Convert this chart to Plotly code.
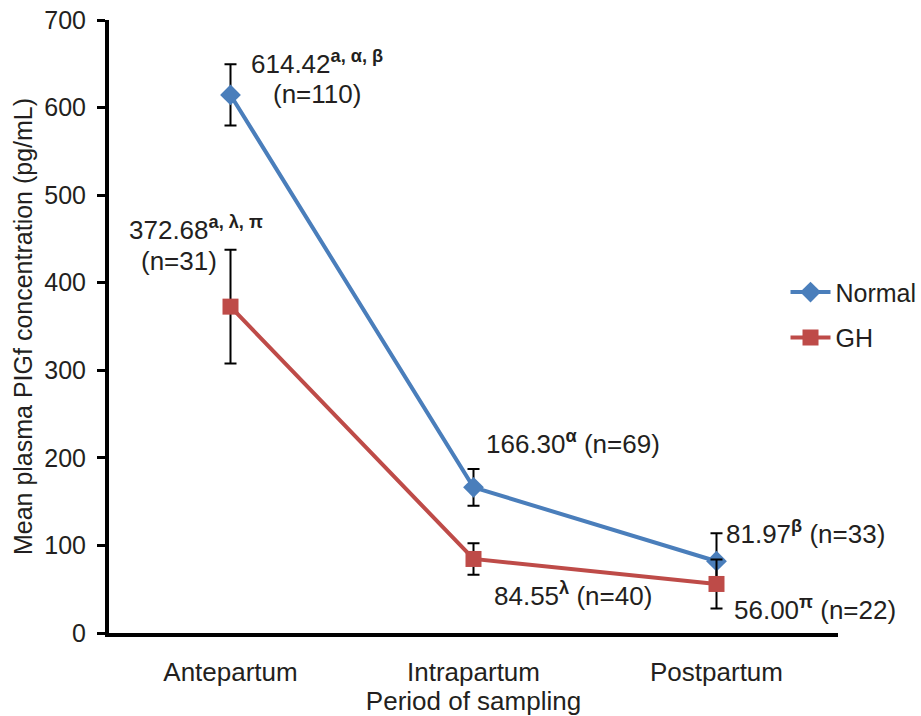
import plotly.graph_objects as go

categories = ["Antepartum", "Intrapartum", "Postpartum"]
normal_vals = [614.42, 166.30, 81.97]
normal_err = [35, 21, 32]
gh_vals = [372.68, 84.55, 56.00]
gh_err = [65, 18, 28]

blue = "#4A7EBB"
red = "#BE4B48"
FONT = "Liberation Sans, Arial, sans-serif"
TXT = "#231F20"

fig = go.Figure()
fig.add_trace(go.Scatter(
    x=[0, 1, 2], y=normal_vals, name="Normal", mode="lines+markers",
    legendgroup="n",
    line=dict(color=blue, width=4),
    marker=dict(symbol="diamond", size=16, color=blue),
    error_y=dict(type="data", array=normal_err, visible=True, color="black", thickness=2, width=6),
))
fig.add_trace(go.Scatter(
    x=[0, 1, 2], y=gh_vals, name="GH", mode="lines+markers",
    legendgroup="g",
    line=dict(color=red, width=4),
    marker=dict(symbol="square", size=16, color=red),
    error_y=dict(type="data", array=gh_err, visible=True, color="black", thickness=2, width=6),
))

ann_font = dict(family=FONT, size=26, color=TXT)
anns = [
    (0.354, 652, "614.42<sup><b>a, α, β</b></sup>", "center"),
    (0.354, 616, "(n=110)", "center"),
    (-0.14, 462, "372.68<sup><b>a, λ, π</b></sup>", "center"),
    (-0.214, 425, "(n=31)", "center"),
    (1.41, 217, "166.30<sup><b>α</b></sup> (n=69)", "center"),
    (1.41, 44, "84.55<sup><b>λ</b></sup> (n=40)", "center"),
    (2.029, 115, "81.97<sup><b>β</b></sup> (n=33)", "left"),
    (2.062, 28, "56.00<sup><b>π</b></sup> (n=22)", "left"),
]
for x, y, t, al in anns:
    fig.add_annotation(x=x, y=y, xref="x", yref="y", text=t, showarrow=False,
                       xanchor=al, yanchor="middle", font=ann_font)

fig.update_layout(
    width=921, height=716,
    margin=dict(l=109, r=83, t=20, b=83, autoexpand=False),
    paper_bgcolor="white", plot_bgcolor="white",
    font=dict(family=FONT, size=26, color=TXT),
    showlegend=True,
    legend=dict(x=0.928, y=0.519, xanchor="left", yanchor="middle",
                font=dict(family=FONT, size=25, color=TXT),
                bgcolor="rgba(0,0,0,0)", itemwidth=40, tracegroupgap=10),
    xaxis=dict(
        range=[-0.5, 2.5], tickmode="array", tickvals=[0, 1, 2], ticktext=categories,
        showline=True, linecolor="black", linewidth=4, showgrid=False, zeroline=False,
        ticks="", ticklen=0, tickfont=dict(size=26), ticklabelstandoff=13,
        automargin=False,
        title=dict(text="Period of sampling", font=dict(size=26), standoff=0),
    ),
    yaxis=dict(
        range=[0, 700], dtick=100, showline=True, linecolor="black", linewidth=4,
        showgrid=False, zeroline=False, ticks="outside", ticklen=8, tickwidth=3,
        tickcolor="black", tickfont=dict(size=25), ticklabelstandoff=6,
        ticklabeloverflow="allow", automargin=False,
        title=dict(text="Mean plasma PIGf concentration (pg/mL)", font=dict(size=25), standoff=6),
    ),
)

fig.write_html("out.html", config={"displayModeBar": False},
               post_script="document.body.style.margin='0';")
